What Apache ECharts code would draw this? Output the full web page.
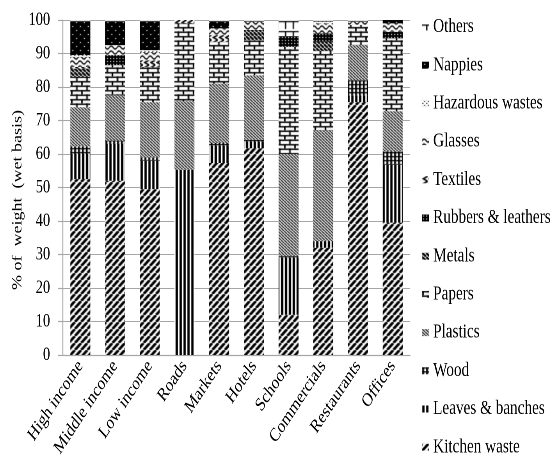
<!DOCTYPE html>
<html><head><meta charset="utf-8">
<script src="https://cdn.jsdelivr.net/npm/echarts@6/dist/echarts.min.js"></script>
<style>
html,body{margin:0;padding:0;background:#fff;overflow:hidden;width:558px;height:461px}
#wrap{width:558px;height:461px;overflow:hidden;position:relative}
#c{width:715px;height:461px;transform:scaleX(0.78042);transform-origin:0 0;position:absolute;left:0;top:0}
</style>
</head><body><div id="wrap"><div id="c"></div></div>
<script>
const categories = ['High income','Middle income','Low income','Roads','Markets','Hotels','Schools','Commercials','Restaurants','Offices'];
const kitchenWaste = [52.5, 52, 49.5, 0, 57.3, 61.7, 12, 32, 75.5, 39.5];
const leaves       = [7.5, 11, 8.5, 55.3, 5.2, 2, 17, 2, 2, 17.3];
const wood         = [2.3, 1, 1, 0, 0.8, 0.5, 0.5, 0, 4.5, 4];
const plastics     = [11.7, 13.5, 16.5, 20.5, 17.7, 19.3, 30.5, 33, 10.5, 12];
const papers       = [9, 9, 10.5, 23.2, 12.5, 10.5, 32, 23.8, 6, 21.7];
const metals       = [2.5, 0, 0, 0, 0, 3, 0, 2.7, 0, 0];
const rubbers      = [0, 3, 0, 0, 0, 0, 3.2, 2.5, 0, 2];
const textiles     = [0.5, 0, 2, 1, 2, 0, 0, 0, 0, 0];
const glasses      = [3, 3, 2.5, 0, 2, 2.5, 0, 3, 1, 2.5];
const hazardous    = [0.5, 0, 0.5, 0, 0, 0, 0, 0.5, 0, 0];
const nappies      = [10, 7, 8.5, 0, 2, 0, 0, 0, 0, 1];
const others       = [0.5, 0.5, 0.5, 0, 0.5, 0.5, 4.8, 0.5, 0.5, 0];
const yTicks = [0,10,20,30,40,50,60,70,80,90,100];
const yTitle = '% of  weight  (wet basis)';

function pat(w, h, bg, draw) {
  const c = document.createElement('canvas');
  c.width = w; c.height = h;
  const g = c.getContext('2d');
  g.fillStyle = bg; g.fillRect(0, 0, w, h);
  g.fillStyle = '#000'; g.strokeStyle = '#000';
  draw(g, w, h);
  return { image: c, repeat: 'repeat' };
}
function diag(g, w, h, lw, dir) {
  g.lineWidth = lw;
  for (let k = -1; k <= 1; k++) {
    g.beginPath();
    if (dir > 0) { g.moveTo(k * w, h); g.lineTo(k * w + w, 0); }
    else { g.moveTo(k * w, 0); g.lineTo(k * w + w, h); }
    g.stroke();
  }
}
const patterns = {
  kitchen: pat(8, 7, '#fff', g => diag(g, 8, 7, 3, 1)),
  leaves: pat(5, 4, '#fff', g => g.fillRect(0, 0, 3, 4)),
  wood: pat(5, 4, '#fff', g => { g.fillRect(0, 0, 2.4, 4); g.fillRect(0, 0, 5, 1.3); }),
  plastics: pat(4, 3, '#fff', g => diag(g, 4, 3, 1.2, -1)),
  papers: pat(13, 9, '#fff', g => {
    g.fillRect(0, 0, 13, 1.5); g.fillRect(0, 4.5, 13, 1.5);
    g.fillRect(0, 0, 2, 4.5); g.fillRect(6.5, 4.5, 2, 4.5);
  }),
  metals: pat(5, 4, '#fff', g => diag(g, 5, 4, 2.3, -1)),
  rubbers: pat(4, 3, '#000', g => { g.fillStyle = '#fff'; g.fillRect(1, 1, 1.3, 1); }),
  textiles: pat(8, 5, '#fff', g => {
    g.lineWidth = 1.6; g.beginPath(); g.moveTo(7, 0); g.lineTo(1.5, 2.5); g.lineTo(7, 5); g.stroke();
  }),
  glasses: pat(10, 5, '#fff', g => {
    g.lineWidth = 1.4; g.beginPath(); g.moveTo(0, 2.5);
    g.quadraticCurveTo(2.5, -0.5, 5, 2.5); g.quadraticCurveTo(7.5, 5.5, 10, 2.5); g.stroke();
  }),
  hazardous: pat(5, 4, '#fff', g => { g.fillRect(0, 3, 1.5, 1); g.fillRect(2.5, 1, 1.5, 1); }),
  nappies: pat(10, 8, '#000', g => { g.fillStyle = '#fff'; g.fillRect(2.5, 2, 1.5, 1); g.fillRect(7.5, 6, 1.5, 1); }),
  others: pat(10, 10, '#fff', g => { g.fillRect(0, 1, 10, 1.2); g.fillRect(5, 1, 1.6, 8); })
};

const seriesDefs = [
  ['Kitchen waste', kitchenWaste, patterns.kitchen],
  ['Leaves & banches', leaves, patterns.leaves],
  ['Wood', wood, patterns.wood],
  ['Plastics', plastics, patterns.plastics],
  ['Papers', papers, patterns.papers],
  ['Metals', metals, patterns.metals],
  ['Rubbers & leathers', rubbers, patterns.rubbers],
  ['Textiles', textiles, patterns.textiles],
  ['Glasses', glasses, patterns.glasses],
  ['Hazardous wastes', hazardous, patterns.hazardous],
  ['Nappies', nappies, patterns.nappies],
  ['Others', others, patterns.others]
];

const font = 'Liberation Serif';
const chart = echarts.init(document.getElementById('c'), null, { renderer: 'canvas', devicePixelRatio: 2, width: 715, height: 461 });
chart.setOption({
  animation: false,
  backgroundColor: '#fff',
  grid: { left: 80.7, right: 189.6, top: 20, bottom: 106 },
  graphic: [{
    type: 'text', x: 23, y: 200, rotation: Math.PI / 2,
    style: { text: yTitle, fontFamily: font, fontSize: 18, fill: '#000', align: 'center', verticalAlign: 'middle' }
  }],
  legend: {
    orient: 'vertical', left: 541, top: 17, padding: 0, height: 450,
    itemWidth: 9, itemHeight: 7, itemGap: 18.2,
    icon: 'rect',
    data: seriesDefs.map(s => s[0]).reverse(),
    textStyle: { fontFamily: font, fontSize: 19.5, color: '#000', lineHeight: 20 },
    selectedMode: false
  },
  xAxis: {
    type: 'category', data: categories,
    axisLine: { lineStyle: { color: '#a6a6a6', width: 1.2 } },
    axisTick: { show: false },
    axisLabel: { interval: 0, rotate: 50, margin: 8, fontFamily: font, fontSize: 19, color: '#000' }
  },
  yAxis: {
    type: 'value', min: 0, max: 100, interval: 10,
    axisLine: { show: true, lineStyle: { color: '#a6a6a6', width: 1.2 } },
    axisTick: { show: true, length: 6.4, lineStyle: { color: '#a6a6a6', width: 1.2 } },
    splitLine: { lineStyle: { color: '#a6a6a6' } },
    axisLabel: { margin: 16.5, fontFamily: font, fontSize: 18.5, color: '#000',
      formatter: v => yTicks.includes(v) ? String(v) : '' }
  },
  series: seriesDefs.map(([name, data, color]) => ({
    name, type: 'bar', stack: 'total', data, barWidth: 25.6,
    itemStyle: { color },
    emphasis: { disabled: true }
  }))
});
</script></body></html>
